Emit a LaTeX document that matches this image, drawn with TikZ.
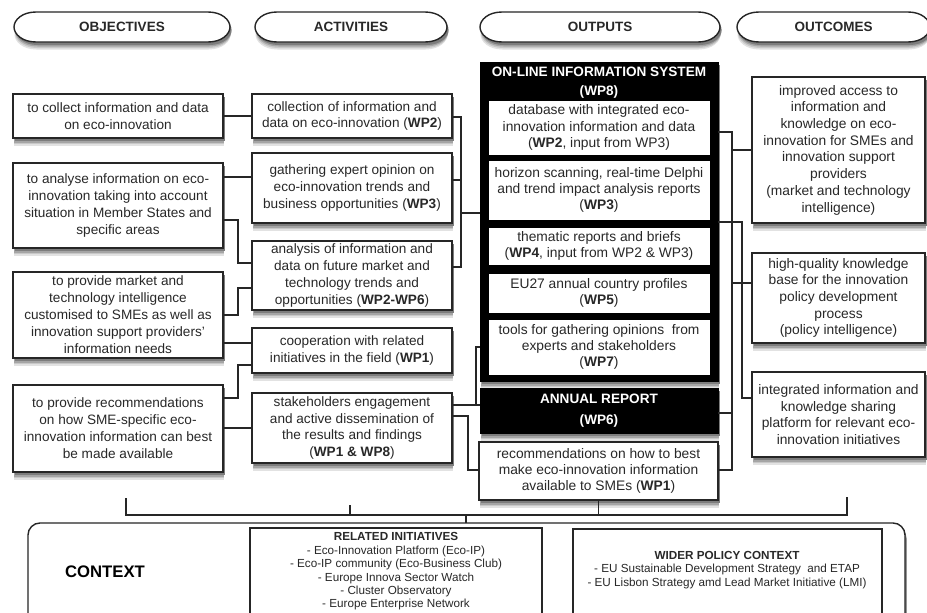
\documentclass[tikz,border=0pt]{standalone}
\usepackage{fontspec}
\setmainfont{Liberation Sans}
\usetikzlibrary{calc}

\definecolor{shadeA}{RGB}{226,226,226}
\definecolor{shadeB}{RGB}{200,200,200}
\definecolor{shadeC}{RGB}{165,165,165}
\definecolor{shadeD}{RGB}{125,125,125}
\definecolor{inkline}{RGB}{38,38,38}
\definecolor{inktext}{RGB}{40,40,40}

% soft drop shadow of a box given by centre (#1,#2), width #3 and height #4
\newcommand\shadowat[4]{%
  \fill[shadeA] (#1-#3/2+0.5,#2-#4/2+7.5) rectangle (#1+#3/2+0.5,#2+#4/2+7.5);
  \fill[shadeB] (#1-#3/2+1,#2-#4/2+6) rectangle (#1+#3/2+1,#2+#4/2+6);
  \fill[shadeC] (#1-#3/2+1.3,#2-#4/2+4.5) rectangle (#1+#3/2+1.3,#2+#4/2+4.5);
  \fill[shadeD] (#1-#3/2+1.6,#2-#4/2+3) rectangle (#1+#3/2+1.6,#2+#4/2+3);}

% header capsule between x=#1 and x=#2, offset by (#3,#4), drawn with style #5
\newcommand\capsuleat[5]{%
  \path[#5] (#1+22+#3,12+#4) -- (#2-22+#3,12+#4)
    .. controls (#2-8+#3,12+#4) and (#2+#3,20+#4) .. (#2+#3,27+#4)
    .. controls (#2+#3,34+#4) and (#2-8+#3,42+#4) .. (#2-22+#3,42+#4)
    -- (#1+22+#3,42+#4)
    .. controls (#1+8+#3,42+#4) and (#1+#3,34+#4) .. (#1+#3,27+#4)
    .. controls (#1+#3,20+#4) and (#1+8+#3,12+#4) .. (#1+22+#3,12+#4) -- cycle;}
\newcommand\headercapsule[2]{%
  \capsuleat{#1}{#2}{0.5}{7.5}{fill=shadeA}
  \capsuleat{#1}{#2}{1}{6}{fill=shadeB}
  \capsuleat{#1}{#2}{1.3}{4.5}{fill=shadeC}
  \capsuleat{#1}{#2}{1.6}{3}{fill=shadeD}
  \capsuleat{#1}{#2}{0}{0}{capsule}}

\begin{document}
\begin{tikzpicture}[x=1pt,y=-1pt,
  every node/.style={inner sep=0pt,outer sep=0pt},
  panel/.style={draw=inkline,line width=1.4pt,fill=white,align=center,text=inktext},
  objbox/.style={panel,minimum width=210,font=\fontsize{13.6}{17}\selectfont},
  actbox/.style={panel,minimum width=200,font=\fontsize{13.6}{16.8}\selectfont},
  outbox/.style={draw=black,line width=1pt,fill=white,align=center,text=inktext,minimum width=222,font=\fontsize{13.8}{16.2}\selectfont},
  resbox/.style={panel,minimum width=173,font=\fontsize{13.8}{16.7}\selectfont},
  hdr/.style={font=\fontsize{13.5}{16}\bfseries\selectfont,text=inktext,minimum height=30},
  capsule/.style={draw=inkline,line width=1.4pt,fill=white},
  darkbox/.style={fill=black,draw=black,line width=1pt,minimum width=238},
  ctxbox/.style={draw=inkline,line width=1.4pt,fill=white},
  listtext/.style={align=center,text=inktext,font=\fontsize{11.7}{13.4}\selectfont},
  wire/.style={draw=inkline,line width=1.1pt}
]
\clip (0,0) rectangle (927,613);
\fill[white] (0,0) rectangle (927,613);

% column headers
\headercapsule{14}{230}
\headercapsule{255}{447}
\headercapsule{480}{720}
\headercapsule{737}{930}
\node[hdr,minimum width=172] (hobj) at (122,27) {OBJECTIVES};
\node[hdr,minimum width=148] (hact) at (351,27) {ACTIVITIES};
\node[hdr,minimum width=196] (hout) at (600,27) {OUTPUTS};
\node[hdr,minimum width=149] (hoc)  at (833.5,27) {OUTCOMES};

% shadows under the boxes
\shadowat{118}{116}{210}{44}
\shadowat{118}{205.5}{210}{85}
\shadowat{118}{315}{210}{86}
\shadowat{118}{428.5}{210}{87}
\shadowat{352}{116}{200}{44}
\shadowat{352}{188}{200}{70}
\shadowat{352}{275.5}{200}{69}
\shadowat{352}{350.5}{200}{45}
\shadowat{352}{428}{200}{70}
\shadowat{599}{221.5}{238}{319}
\shadowat{599}{410.5}{238}{45}
\shadowat{598.5}{471}{239}{58}
\shadowat{838.5}{150}{173}{146}
\shadowat{838.5}{298}{173}{90}
\shadowat{838.5}{414.5}{173}{85}
\fill[shadeA,rounded corners=12pt] (28.5,530.5) rectangle (905.5,660.5);
\fill[shadeC,rounded corners=12pt] (29.5,527.5) rectangle (906.5,657.5);
\fill[shadeD,rounded corners=12pt] (29.5,526) rectangle (906.5,656);

% objectives
\node[objbox,minimum height=44] (o1) at (118,116) {to collect information and data\\on eco-innovation};
\node[objbox,minimum height=85] (o2) at (118,205.5) {to analyse information on eco-\\innovation taking into account\\situation in Member States and\\specific areas};
\node[objbox,minimum height=86] (o3) at (118,315) {to provide market and\\technology intelligence\\customised to SMEs as well as\\innovation support providers'\\information needs};
\node[objbox,minimum height=87] (o4) at (118,428.5) {to provide recommendations\\on how SME-specific eco-\\innovation information can best\\be made available};

% activities
\node[actbox,minimum height=44] (a1) at (352,116) {collection of information and\\data on eco-innovation (\textbf{WP2})};
\node[actbox,minimum height=70] (a2) at (352,188) {gathering expert opinion on\\eco-innovation trends and\\business opportunities (\textbf{WP3})};
\node[actbox,minimum height=69] (a3) at (352,275.5) {analysis of information and\\data on future market and\\technology trends and\\opportunities (\textbf{WP2-WP6})};
\node[actbox,minimum height=45] (a4) at (352,350.5) {cooperation with related\\initiatives in the field (\textbf{WP1})};
\node[actbox,minimum height=70] (a5) at (352,428) {stakeholders engagement\\and active dissemination of\\the results and findings\\(\textbf{WP1 \& WP8})};

% outputs: on-line information system
\node[darkbox,minimum height=319] (ois) at (599,221.5) {};
\node[font=\fontsize{13.6}{19}\bfseries\selectfont,text=white,align=center] (oist) at (599,82.5) {ON-LINE INFORMATION SYSTEM\\(WP8)};
\node[outbox,minimum height=55] (b1) at (599,127.5) {database with integrated eco-\\innovation information and data\\(\textbf{WP2}, input from WP3)};
\node[outbox,minimum height=60] (b2) at (599,190) {horizon scanning, real-time Delphi\\and trend impact analysis reports\\(\textbf{WP3})};
\node[outbox,minimum height=38] (b3) at (599,246) {thematic reports and briefs\\(\textbf{WP4}, input from WP2 \& WP3)};
\node[outbox,minimum height=40] (b4) at (599,293) {EU27 annual country profiles\\(\textbf{WP5})};
\node[outbox,minimum height=56] (b5) at (599,347) {tools for gathering opinions\ \ from\\experts and stakeholders\\(\textbf{WP7})};
\node[darkbox,minimum height=45,text=white,align=center,font=\fontsize{13.6}{21}\bfseries\selectfont] (ann) at (599,410.5) {ANNUAL REPORT\\(WP6)};
\node[panel,minimum width=239,minimum height=58,font=\fontsize{13.8}{16.2}\selectfont] (b6) at (598.5,471) {recommendations on how to best\\make eco-innovation information\\available to SMEs (\textbf{WP1})};

% outcomes
\node[resbox,minimum height=146] (c1) at (838.5,150) {improved access to\\information and\\knowledge on eco-\\innovation for SMEs and\\innovation support\\providers\\(market and technology\\intelligence)};
\node[resbox,minimum height=90] (c2) at (838.5,298) {high-quality knowledge\\base for the innovation\\policy development\\process\\(policy intelligence)};
\node[resbox,minimum height=85] (c3) at (838.5,414.5) {integrated information and\\knowledge sharing\\platform for relevant eco-\\innovation initiatives};

% context
\node[ctxbox,rounded corners=12pt,minimum width=877,minimum height=130] (ctx) at (466.5,588) {};
\node[font=\fontsize{16.7}{20}\bfseries\selectfont,text=black] (ctxl) at (105,572) {CONTEXT};
\node[draw=inkline,line width=1.3pt,minimum width=292,minimum height=122] (rel) at (396,589) {};
\node[listtext] (relt) at (396,571.5) {\textbf{RELATED INITIATIVES}\\- Eco-Innovation Platform (Eco-IP)\\- Eco-IP community (Eco-Business Club)\\- Europe Innova Sector Watch\\- Cluster Observatory\\- Europe Enterprise Network};
\node[draw=inkline,line width=1.3pt,minimum width=309,minimum height=122] (wid) at (727.5,590) {};
\node[listtext] (widt) at (727,570) {\textbf{WIDER POLICY CONTEXT}\\- EU Sustainable Development Strategy\ \ and ETAP\\- EU Lisbon Strategy amd Lead Market Initiative (LMI)};

% objectives -> activities
\draw[wire] (o1) -- (a1);
\draw[wire] (o2.east |- 0,177) -- (a2.west |- 0,177);
\draw[wire] (o2.east |- 0,220) -- ++(15,0) |- (a3.west |- 0,263);
\draw[wire] (o3.east |- 0,315) -- ++(15,0) |- (a3.west |- 0,288);
\draw[wire] (o3.east |- 0,343) -- (a4.west |- 0,343);
\draw[wire] (o4.east |- 0,398) -- ++(15,0) |- (a4.west |- 0,365);
\draw[wire] (o4.east |- 0,428) -- (a5.west |- 0,428);

% activities -> outputs
\coordinate (busl) at (461,213);
\draw[wire] (a1.east |- 0,117) -- ++(9,0) |- (a3.east |- 0,267);
\draw[wire] (a2.east |- 0,180) -- ++(9,0);
\draw[wire] (busl) -- (ois.west |- busl);
\draw[wire] (a5.east |- 0,405) -- (ann.west |- 0,405);
\draw[wire] (a5.east |- 0,405) ++(24,0) |- (ois.west |- 0,347);
\draw[wire] (a5.east |- 0,416) -- ++(16,0) |- (b6.west |- 0,470);

% outputs -> outcomes
\draw[wire] (ois.east |- 0,132) -- ++(14,0) |- (b6.east |- 0,470);
\draw[wire] (ann.east |- 0,413) -- ++(14,0);
\draw[wire] (c1.west |- 0,150) -- ++(-20,0);
\draw[wire] (c2.west |- 0,283) -- ++(-20,0);
\draw[wire] (ois.east |- 0,222) -- ++(24,0) |- (c3.west |- 0,398);

% links down to the context
\coordinate (t1) at (126,498);
\coordinate (t2) at (350,505);
\coordinate (t4) at (847,497);
\draw[wire] (t1) -- (t1 |- 0,515) -- (t4 |- 0,515) -- (t4);
\draw[wire] (t2) -- (t2 |- 0,515);
\draw[wire] (b6.south) -- (b6.south |- 0,515);
\draw[wire] (ctx.north -| 466,0) -- ++(0,-8);
\end{tikzpicture}
\end{document}
